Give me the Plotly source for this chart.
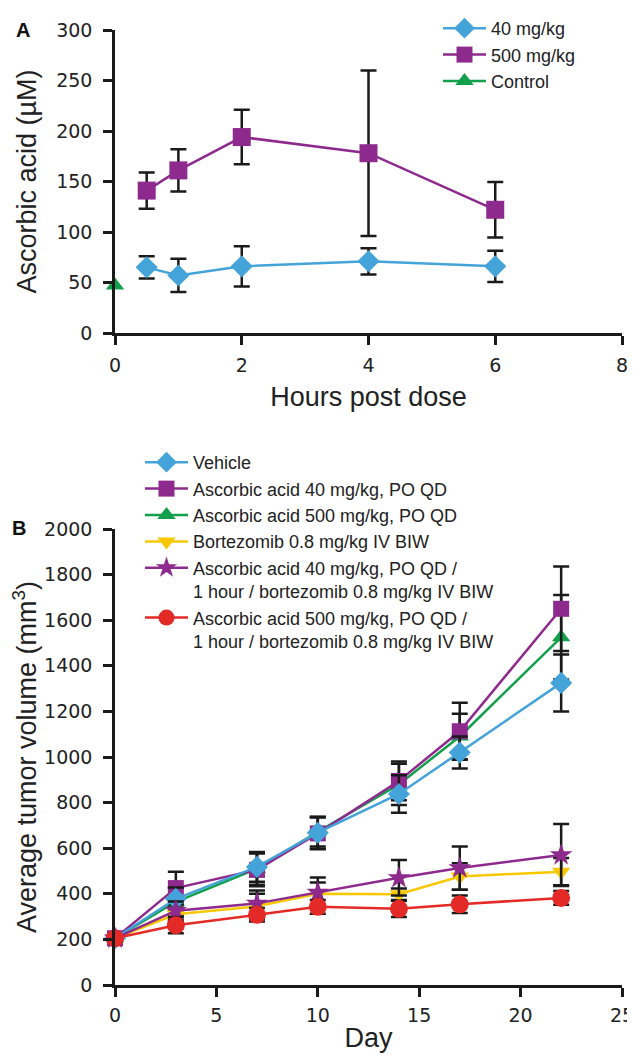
import plotly.graph_objects as go

# ---------------- Panel A data ----------------
hours = [0.5, 1, 2, 4, 6]
aa40 = [65, 57, 66, 71, 66]
aa40_err = [11, 16.5, 20, 13, 15.5]
aa500 = [141, 161, 194, 178, 122]
aa500_err = [18, 21, 27, 82, 27.5]
control_x = [0]
control_y = [47]

# ---------------- Panel B data ----------------
days = [0, 3, 7, 10, 14, 17, 22]
vehicle = [205, 378, 518, 668, 838, 1020, 1325]
vehicle_err = [0, 50, 65, 70, 82, 70, 125]
aa40_po = [205, 425, 505, 665, 895, 1113, 1650]
aa40_po_err = [0, 72, 72, 70, 85, 125, 185]
aa500_po = [205, 365, 510, 672, 880, 1090, 1525]
aa500_po_err = [0, 60, 70, 65, 90, 100, 185]
bort = [205, 310, 345, 400, 398, 476, 497]
bort_err = [0, 30, 55, 50, 25, 58, 60]
aa40_bort = [205, 326, 358, 406, 470, 513, 570]
aa40_bort_err = [0, 40, 56, 65, 78, 95, 136]
aa500_bort = [205, 262, 308, 343, 334, 354, 382]
aa500_bort_err = [0, 35, 30, 30, 36, 38, 30]

BLUE = "#44a3d8"
PURPLE = "#8e2a8e"
GREEN = "#13a04c"
YELLOW = "#f7c800"
RED = "#e42a26"
BLACK = "#1a1a1a"

# page body has an 8px margin: the figure is sized to fill the rest of the window
OFF = 8
W, H = 635 - OFF, 1056 - OFF
X0_S, X1_S = 115, 622          # screen x of axis start/end
BOT_S = 985                    # screen y of lowest axis
ML = X0_S - OFF
MR = W - (X1_S - OFF)
MT = 0
MB = H - (BOT_S - OFF)
PW = W - ML - MR
PH = H - MT - MB


def sx(x):
    return (x - OFF - ML) / PW


def sy(y):
    return (H - MB - (y - OFF)) / PH


fig = go.Figure()


def err(vals):
    return dict(type="data", array=vals, visible=True, color=BLACK,
                thickness=2.5, width=8)


# Panel A traces
fig.add_trace(go.Scatter(x=hours, y=aa40, name="40 mg/kg", mode="lines+markers",
                         line=dict(color=BLUE, width=2.5),
                         marker=dict(symbol="diamond", size=17, color=BLUE),
                         error_y=err(aa40_err), xaxis="x", yaxis="y",
                         legend="legend", cliponaxis=False))
fig.add_trace(go.Scatter(x=hours, y=aa500, name="500 mg/kg", mode="lines+markers",
                         line=dict(color=PURPLE, width=2.5),
                         marker=dict(symbol="square", size=18, color=PURPLE),
                         error_y=err(aa500_err), xaxis="x", yaxis="y",
                         legend="legend", cliponaxis=False))
fig.add_trace(go.Scatter(x=control_x, y=control_y, name="Control", mode="lines+markers",
                         line=dict(color=GREEN, width=2.5),
                         marker=dict(symbol="triangle-up", size=16, color=GREEN),
                         xaxis="x", yaxis="y", legend="legend", cliponaxis=False))

# Panel B traces (drawing order differs from legend order)
specs = [
    ("Ascorbic acid 500 mg/kg, PO QD", aa500_po, aa500_po_err, GREEN, "triangle-up", 16, 3),
    ("Ascorbic acid 40 mg/kg, PO QD", aa40_po, aa40_po_err, PURPLE, "square", 16, 2),
    ("Vehicle", vehicle, vehicle_err, BLUE, "diamond", 17, 1),
    ("Bortezomib 0.8 mg/kg IV BIW", bort, bort_err, YELLOW, "triangle-down", 16, 4),
    ("Ascorbic acid 40 mg/kg, PO QD /<br>1 hour / bortezomib 0.8 mg/kg IV BIW", aa40_bort, aa40_bort_err, PURPLE, "star", 17, 5),
    ("Ascorbic acid 500 mg/kg, PO QD /<br>1 hour / bortezomib 0.8 mg/kg IV BIW", aa500_bort, aa500_bort_err, RED, "circle", 18, 6),
]
for name, vals, e, col, sym, sz, rank in specs:
    fig.add_trace(go.Scatter(x=days, y=vals, name=name, mode="lines+markers",
                             line=dict(color=col, width=2.5),
                             marker=dict(symbol=sym, size=sz, color=col),
                             error_y=err(e), xaxis="x2", yaxis="y2",
                             legend="legend2", legendrank=rank, cliponaxis=False))

TICKFONT = dict(family="DejaVu Sans", size=19, color="#222")
TITLEFONT = dict(family="Liberation Sans, Arial", size=27, color="#222")
axis_common = dict(showline=True, linecolor=BLACK, linewidth=2.5, ticks="outside",
                   ticklen=9, tickwidth=2.5, tickcolor=BLACK, showgrid=False,
                   zeroline=False, tickfont=TICKFONT, mirror=False)

fig.update_layout(
    width=W, height=H,
    margin=dict(l=ML, r=MR, t=MT, b=MB, autoexpand=False),
    paper_bgcolor="white", plot_bgcolor="white",
    xaxis=dict(domain=[0, 1], range=[0, 8], dtick=2, anchor="y",
               title=dict(text="Hours post dose", font=TITLEFONT, standoff=13),
               ticklabelstandoff=4, **axis_common),
    yaxis=dict(domain=[sy(333), sy(30)], range=[0, 300], dtick=50, anchor="x",
               title=dict(text="Ascorbic acid (µM)", font=TITLEFONT, standoff=12),
               ticklabelstandoff=7, **axis_common),
    xaxis2=dict(domain=[0, 1], range=[0, 25], dtick=5, anchor="y2",
                title=dict(text="Day", font=TITLEFONT, standoff=4),
                ticklabelstandoff=2, **axis_common),
    yaxis2=dict(domain=[0, sy(529)], range=[0, 2000], dtick=200, anchor="x2",
                title=dict(text="Average tumor volume (mm<sup>3</sup>)", font=TITLEFONT, standoff=10),
                ticklabelstandoff=7, **axis_common),
    legend=dict(x=sx(438), y=sy(10), xanchor="left", yanchor="top",
                font=dict(family="Liberation Sans, Arial", size=18, color="#222"),
                bgcolor="rgba(0,0,0,0)", itemwidth=43, tracegroupgap=0),
    legend2=dict(x=sx(140), y=sy(444), xanchor="left", yanchor="top",
                 font=dict(family="Liberation Sans, Arial", size=18, color="#222"),
                 bgcolor="rgba(0,0,0,0)", itemwidth=43, valign="top", tracegroupgap=0),
    showlegend=True,
    annotations=[
        dict(text="<b>A</b>", x=sx(23), y=sy(30), xref="paper", yref="paper",
             xanchor="center", yanchor="middle", showarrow=False,
             font=dict(family="Liberation Sans, Arial", size=20, color="#111")),
        dict(text="<b>B</b>", x=sx(19), y=sy(528), xref="paper", yref="paper",
             xanchor="center", yanchor="middle", showarrow=False,
             font=dict(family="Liberation Sans, Arial", size=20, color="#111")),
    ],
)

fig.write_html("out.html")
